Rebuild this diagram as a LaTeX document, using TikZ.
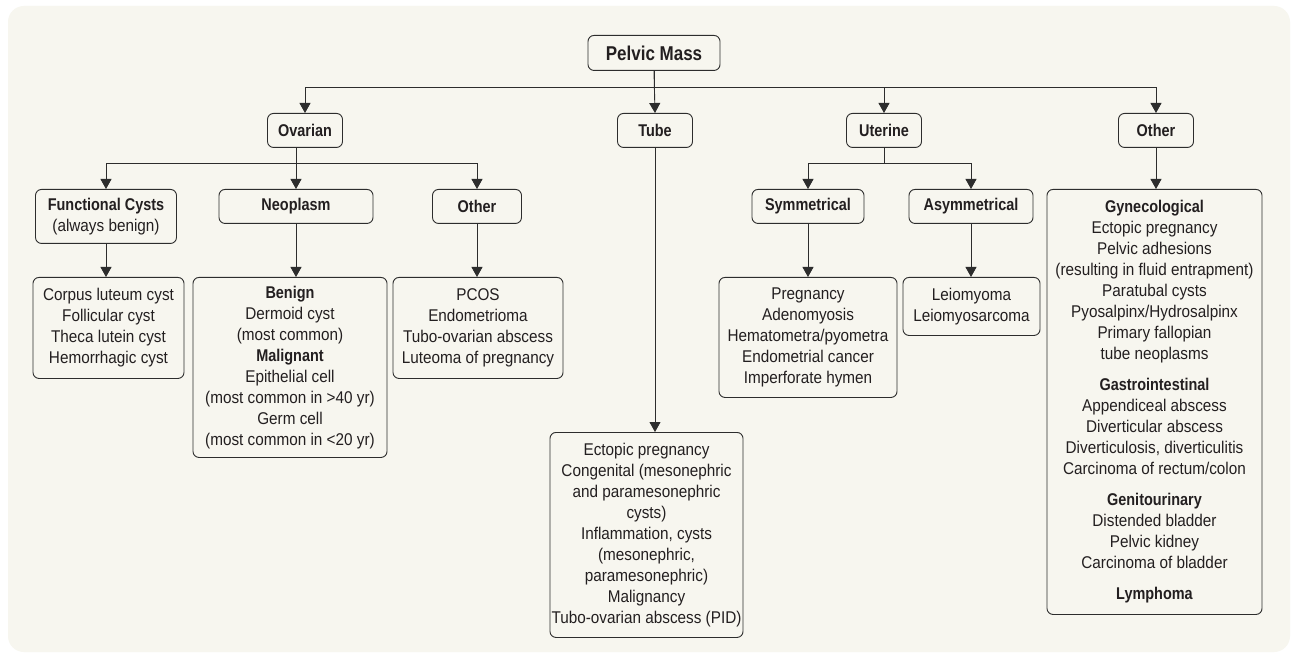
\documentclass[tikz,border=0pt]{standalone}
\usepackage{fontspec}
\setmainfont{Liberation Sans}[FakeStretch=0.9]
\newfontfamily\headfont{Liberation Sans}[FakeStretch=0.85]
\usepackage{tikz}
\usetikzlibrary{
    positioning,
    arrows.meta
}
\definecolor{PaperBeige}{RGB}{247,246,239}
\definecolor{InkGray}{RGB}{35,31,32}
\definecolor{LineGray}{RGB}{45,45,45}
\newcommand{\hd}[1]{{\headfont\bfseries #1}}

\begin{document}
\begin{tikzpicture}[
    x=1pt, y=-1pt,
    box/.style={rectangle, draw=LineGray, line width=0.9pt, rounded corners=6pt, fill=PaperBeige, text=InkGray, align=center, anchor=north, inner sep=1pt, font=\fontsize{17}{21}\selectfont},
    head/.style={box, minimum height=34pt, font=\fontsize{17}{21}\selectfont\headfont\bfseries},
    arrow/.style={color=LineGray, line width=0.9pt, -{Triangle[length=10pt, width=11pt]}}
]
\fill[white] (0,0) rectangle (1294,655);
\fill[PaperBeige, rounded corners=16pt] (8,6) rectangle (1290,652);
\useasboundingbox (0,0) rectangle (1294,655);

% top and first level
\node[head, minimum width=132pt, minimum height=35pt, font=\fontsize{20}{24}\selectfont\headfont\bfseries] (pelvic) at (654,35) {Pelvic Mass};
\node[head, minimum width=75pt] (ovarian) at (305,113) {Ovarian};
\node[head, minimum width=75pt] (tube) at (655,113) {Tube};
\node[head, minimum width=75pt] (uterine) at (884,113) {Uterine};
\node[head, minimum width=75pt] (other) at (1156,113) {Other};

% second level
\node[box, minimum width=141pt, minimum height=54pt] (functional) at (106,189) {\hd{Functional Cysts}\\(always benign)};
\node[head, minimum width=154pt] (neoplasm) at (296,189) {Neoplasm};
\node[head, minimum width=89pt] (ovother) at (477,189) {Other};
\node[head, minimum width=112pt] (symm) at (808,189) {Symmetrical};
\node[head, minimum width=124pt] (asymm) at (971,189) {Asymmetrical};

% lists
\node[box, minimum width=151pt, minimum height=101pt] (cysts) at (108.5,277) {Corpus luteum cyst\\Follicular cyst\\Theca lutein cyst\\Hemorrhagic cyst};
\node[box, minimum width=194pt, minimum height=180pt] (neolist) at (290,277) {\hd{Benign}\\Dermoid cyst\\(most common)\\\hd{Malignant}\\Epithelial cell\\(most common in >40 yr)\\Germ cell\\(most common in <20 yr)};
\node[box, minimum width=170pt, minimum height=101pt] (ovlist) at (478,277) {PCOS\\Endometrioma\\Tubo-ovarian abscess\\Luteoma of pregnancy};
\node[box, minimum width=193pt, minimum height=205pt] (tubelist) at (646.5,432) {Ectopic pregnancy\\Congenital (mesonephric\\and paramesonephric\\cysts)\\Inflammation, cysts\\(mesonephric,\\paramesonephric)\\Malignancy\\Tubo-ovarian abscess (PID)};
\node[box, minimum width=178pt, minimum height=120pt] (symlist) at (808,277) {Pregnancy\\Adenomyosis\\Hematometra/pyometra\\Endometrial cancer\\Imperforate hymen};
\node[box, minimum width=137pt, minimum height=58pt] (asymlist) at (971.5,277) {Leiomyoma\\Leiomyosarcoma};
\node[box, minimum width=215pt, minimum height=425pt] (otherlist) at (1154.5,189) {\hd{Gynecological}\\Ectopic pregnancy\\Pelvic adhesions\\(resulting in fluid entrapment)\\Paratubal cysts\\Pyosalpinx/Hydrosalpinx\\Primary fallopian\\tube neoplasms\\[10pt]\hd{Gastrointestinal}\\Appendiceal abscess\\Diverticular abscess\\Diverticulosis, diverticulitis\\Carcinoma of rectum/colon\\[10pt]\hd{Genitourinary}\\Distended bladder\\Pelvic kidney\\Carcinoma of bladder\\[10pt]\hd{Lymphoma}};

% connectors
\draw[arrow] (pelvic.south) -- ++(0,17) -| (ovarian.north);
\draw[arrow] (pelvic.south) -- (tube.north);
\draw[arrow] (pelvic.south) -- ++(0,17) -| (uterine.north);
\draw[arrow] (pelvic.south) -- ++(0,17) -| (other.north);

\draw[arrow] (ovarian.south -| neoplasm.north) -- (neoplasm.north);
\draw[arrow] (ovarian.south -| neoplasm.north) -- ++(0,16) -| (functional.north);
\draw[arrow] (ovarian.south -| neoplasm.north) -- ++(0,16) -| (ovother.north);

\draw[arrow] (uterine.south) -- ++(0,16) -| (symm.north);
\draw[arrow] (uterine.south) -- ++(0,16) -| (asymm.north);

\draw[arrow] (functional.south) -- (functional.south |- cysts.north);
\draw[arrow] (neoplasm.south) -- (neoplasm.south |- neolist.north);
\draw[arrow] (ovother.south) -- (ovother.south |- ovlist.north);
\draw[arrow] (tube.south) -- (tube.south |- tubelist.north);
\draw[arrow] (symm.south) -- (symm.south |- symlist.north);
\draw[arrow] (asymm.south) -- (asymm.south |- asymlist.north);
\draw[arrow] (other.south) -- (other.south |- otherlist.north);
\end{tikzpicture}
\end{document}
